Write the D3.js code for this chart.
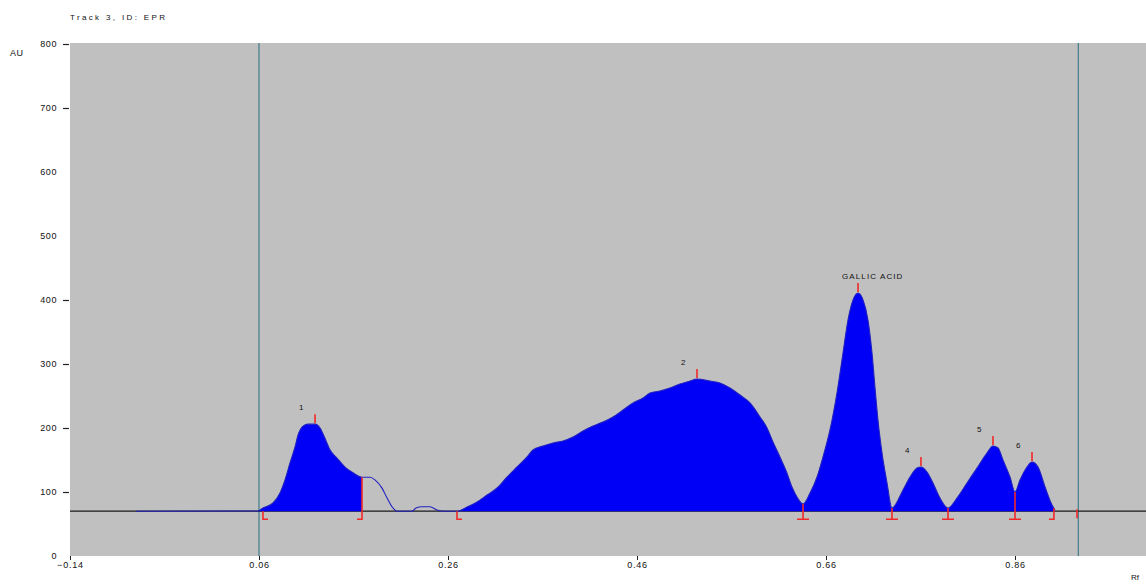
<!DOCTYPE html>
<html><head><meta charset="utf-8">
<script src="https://cdn.jsdelivr.net/npm/d3@7"></script>
<style>
body{margin:0;background:#fff;}
svg{display:block;font-family:"Liberation Sans",Arial,sans-serif;}
</style></head><body>
<svg id="c" width="1146" height="584"></svg>
<script>
// ---------- data ----------
const title = "Track 3, ID: EPR";
const yLabel = "AU";
const xLabel = "Rf";
const yTicks = [0,100,200,300,400,500,600,700,800];
const yTicksNoMark = [0,500,600];
const xTicks = [-0.14,0.06,0.26,0.46,0.66,0.86];
const baselineAU = 70;
const windowRf = [0.06, 0.927];

const traceRf = [-0.0702,0.0589,0.0642,0.0748,0.0822,0.0875,0.0928,0.0981,0.1013,0.1066,0.1119,0.1193,0.1246,0.1298,0.1351,0.1425,0.1510,0.1595,0.1690,
  0.1775,0.1827,0.1902,0.1954,0.2018,0.2060,0.2219,0.2261,0.2325,0.2410,0.2484,0.2568,
  0.2706,0.2801,0.2907,0.3013,0.3119,0.3224,0.3330,0.3436,0.3499,0.3605,0.3711,0.3817,0.3923,0.4029,0.4134,0.4240,0.4346,0.4452,0.4558,0.4664,0.4738,0.4843,0.4949,0.5055,0.5161,0.5235,0.5373,0.5478,0.5584,0.5690,0.5796,0.5902,0.5976,0.6039,0.6113,0.6187,0.6240,0.6293,0.6357,
  0.6431,0.6505,0.6568,0.6642,0.6716,0.6780,0.6833,0.6886,0.6939,0.6992,0.7044,0.7087,0.7118,0.7150,0.7193,0.7246,0.7298,
  0.7415,0.7489,0.7563,0.7605,0.7669,0.7732,0.7806,0.7891,
  0.7986,0.8092,0.8198,0.8303,0.8367,0.8420,0.8473,0.8547,0.8600,
  0.8653,0.8727,0.8780,0.8844,0.8918,0.8992,0.9023];
const traceAU = [70,70.3,75,82.8,98.4,118.8,145.3,170.3,189,203,206,206,200,184,166,153,139,130,123,
  123,119,106,91,75,70,70,75,77,77,72,70,
  70,76.6,84.4,95.3,106.3,123.4,139.1,154.7,165.6,171.9,176.6,179.7,185.9,195.3,203.1,209.4,217.2,228.1,239.1,246.9,254.7,257.8,262.5,268.8,273.4,276.6,273.4,270.3,262.5,251.6,239.1,217.2,200,178.1,154.7,129.7,107.8,92.2,81.3,
  98.4,123.4,154.7,196.9,254.7,317.2,368.8,400,410.9,400,368.8,317.2,264.1,212.5,160.9,114.1,75,
  103.1,123.4,137.5,139.1,131.3,114.1,90.6,75,
  90.6,114.1,137.5,160.9,171.9,168.8,150,123.4,100,
  118.8,139.1,146.9,139.1,107.8,79.7,71.9];

const fillRanges = [[0.0589,0.169],[0.2706,0.9023]];
const peakLabels = ["1","2","GALLIC ACID","4","5","6"];
const peakRf = [0.1193,0.5235,0.6939,0.7605,0.8367,0.8780];
const startMarks = [0.0642,0.2695];
const endMarks = [0.169,0.9012];
const valleyMarks = [0.6357,0.7298,0.7891,0.8600];
const tailMarks = [0.9256];

// ---------- layout ----------
const svg = d3.select("#c");
const x = d3.scaleLinear().domain([-0.14,1.0]).range([70,1147.3]);
const y = d3.scaleLinear().domain([0,800]).range([556,44]);
const plotTop = 43, plotBottom = 556, plotLeft = 70, plotRight = 1146;
const red = "#f02828";

const trace = traceRf.map((r,i)=>({rf:r, au:traceAU[i]}));
function auAt(rf){
  if (rf <= traceRf[0] || rf >= traceRf[traceRf.length-1]) return baselineAU;
  const i = d3.bisectRight(traceRf, rf);
  const a = trace[i-1], b = trace[i];
  const t = (rf - a.rf)/(b.rf - a.rf);
  return a.au + t*(b.au - a.au);
}

svg.append("rect").attr("x",plotLeft).attr("y",plotTop)
  .attr("width",plotRight-plotLeft).attr("height",plotBottom-plotTop).attr("fill","#c0c0c0");

svg.selectAll("line.win").data(windowRf).join("line")
  .attr("x1",d=>x(d)).attr("x2",d=>x(d)).attr("y1",plotTop).attr("y2",plotBottom)
  .attr("stroke","#3f7c8a").attr("stroke-width",1.2);

const yb = y(baselineAU);
svg.append("line").attr("x1",plotLeft).attr("x2",plotRight).attr("y1",yb).attr("y2",yb)
  .attr("stroke","#1a1a1a").attr("stroke-width",1.2);

const area = d3.area().curve(d3.curveMonotoneX).x(d=>x(d.rf)).y0(yb).y1(d=>y(d.au));
fillRanges.forEach(([a,b])=>{
  const pts = trace.filter(d=>d.rf>=a-1e-6 && d.rf<=b+1e-6);
  svg.append("path").attr("d",area(pts)).attr("fill","#0000f6");
});

const line = d3.line().curve(d3.curveMonotoneX).x(d=>x(d.rf)).y(d=>y(d.au));
svg.append("path").attr("d",line(trace)).attr("fill","none")
  .attr("stroke","#2020c0").attr("stroke-width",1.1);

// ---------- integration marks ----------
const mk = svg.append("g").attr("stroke",red).attr("stroke-width",1.6).attr("fill","none");
const foot = yb+8;
startMarks.forEach(r=>{
  const px = x(r);
  mk.append("path").attr("d",`M${px},${yb}L${px},${foot}L${px+5},${foot}`);
});
endMarks.forEach(r=>{
  const px = x(r), top = y(auAt(r));
  mk.append("path").attr("d",`M${px},${Math.min(top,yb)}L${px},${foot}L${px-5},${foot}`);
});
valleyMarks.forEach(r=>{
  const px = x(r), top = y(auAt(r));
  mk.append("path").attr("d",`M${px},${top}L${px},${foot}M${px-6},${foot}L${px+6},${foot}`);
});
tailMarks.forEach(r=>{
  const px = x(r);
  mk.append("path").attr("d",`M${px},${yb-2}L${px},${yb+7}`);
});
peakRf.forEach(r=>{
  const px = x(r), py = y(auAt(r));
  mk.append("path").attr("d",`M${px},${py-1}L${px},${py-10}`);
});

// ---------- peak labels ----------
svg.selectAll("text.pk").data(peakRf).join("text")
  .attr("x",d=>x(d)-16).attr("y",d=>y(auAt(d))-14)
  .attr("font-size",8).attr("letter-spacing",1.1).attr("fill","#111")
  .text((d,i)=>peakLabels[i]);

// ---------- axes ----------
const yAxis = d3.axisLeft(y).tickValues(yTicks).tickSize(6).tickPadding(6).tickFormat(d3.format("d"));
const gy = svg.append("g").attr("transform",`translate(${plotLeft-1},0)`).call(yAxis);
gy.select(".domain").remove();
gy.selectAll(".tick line").attr("stroke","#222").attr("stroke-width",1.2)
  .attr("opacity",d=>yTicksNoMark.includes(d)?0:1);
gy.selectAll(".tick text").attr("font-size",9).attr("letter-spacing",0.6).attr("fill","#111")
  .attr("font-family","'Liberation Sans',Arial,sans-serif");

const xAxis = d3.axisBottom(x).tickValues(xTicks).tickSize(4).tickPadding(2).tickFormat(d3.format(".2f"));
const gx = svg.append("g").attr("transform",`translate(0,${plotBottom})`).call(xAxis);
gx.select(".domain").remove();
gx.selectAll(".tick line").attr("stroke","#222");
gx.selectAll(".tick text").attr("font-size",9).attr("letter-spacing",0.8).attr("fill","#111")
  .attr("font-family","'Liberation Sans',Arial,sans-serif");

svg.append("text").attr("x",70).attr("y",20).attr("font-size",8).attr("fill","#111")
  .attr("textLength",95).attr("lengthAdjust","spacing").text(title);
svg.append("text").attr("x",10).attr("y",56).attr("font-size",9).attr("letter-spacing",0.6).attr("fill","#111").text(yLabel);
svg.append("text").attr("x",1131).attr("y",580).attr("font-size",8).attr("fill","#111").text(xLabel);
</script>
</body></html>
